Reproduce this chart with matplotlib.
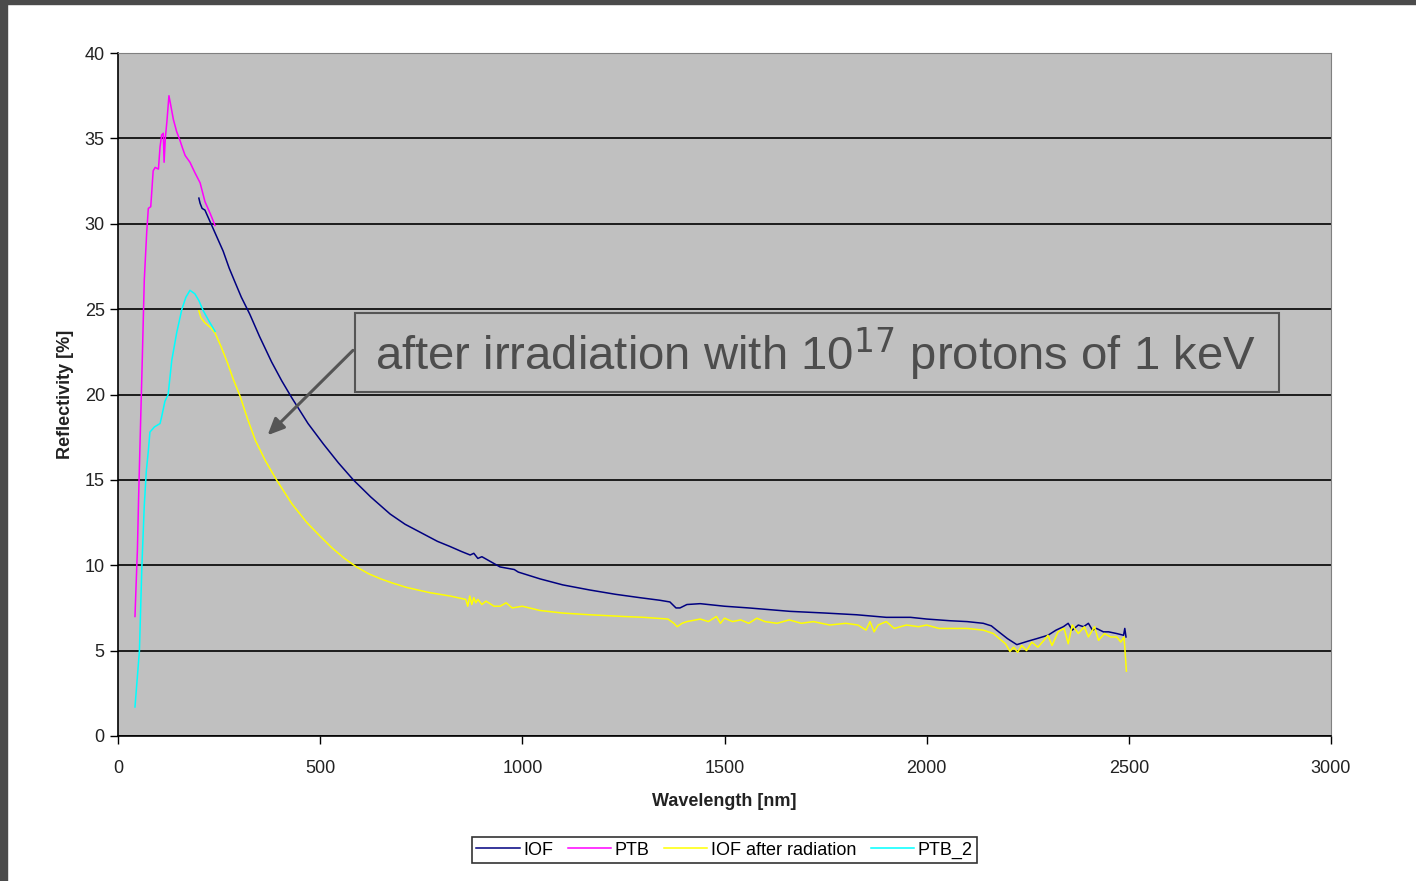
import matplotlib
matplotlib.use('Agg')
import matplotlib.pyplot as plt
import matplotlib.patches as mpatches

plt.rcParams['font.family'] = ['Liberation Sans', 'DejaVu Sans']

# PTB (magenta)
ptb_x = [42, 45, 48, 51, 54, 60, 65, 71, 75, 81, 87, 92, 100, 104, 108, 112, 114, 117, 121, 126, 130, 137,
         145, 153, 160, 166, 178, 190, 203, 215, 228, 240]
ptb_y = [7.0, 9.0, 10.9, 14.0, 16.7, 22.0, 26.7, 29.5, 30.9, 31.0, 33.1, 33.3, 33.2, 34.5, 35.2, 35.3, 33.6,
         35.0, 36.0, 37.5, 37.0, 36.1, 35.4, 34.9, 34.4, 34.0, 33.6, 33.0, 32.4, 31.3, 30.6, 29.9]

# PTB_2 (cyan)
ptb2_x = [42, 47, 53, 59, 65, 70, 75, 79, 90, 104, 108, 116, 124, 133, 145, 158, 168, 178, 190, 200, 211, 225, 240]
ptb2_y = [1.7, 3.2, 5.0, 9.9, 13.5, 15.5, 16.7, 17.8, 18.1, 18.3, 18.7, 19.6, 20.0, 22.0, 23.6, 25.0, 25.7,
          26.1, 25.9, 25.5, 24.9, 24.3, 23.7]

# IOF (navy)
iof_x = [200, 203, 208, 215, 230, 245, 260, 275, 289, 305, 326, 350, 380, 405, 430, 470, 508, 545, 582, 625,
         673, 710, 750, 790, 821, 850, 871, 880, 890, 900, 945, 980, 990, 1044, 1100, 1167, 1230, 1291, 1340,
         1365, 1380, 1390, 1407, 1440, 1500, 1560, 1662, 1750, 1827, 1900, 1960, 2000, 2058, 2100, 2140, 2160,
         2173, 2200, 2223, 2250, 2272, 2300, 2320, 2338, 2350, 2360, 2375, 2388, 2400, 2410, 2420, 2437, 2450,
         2470, 2487, 2490, 2493]
iof_y = [31.5, 31.2, 30.9, 30.8, 30.0, 29.2, 28.4, 27.4, 26.6, 25.7, 24.7, 23.4, 21.9, 20.8, 19.8, 18.3, 17.1,
         16.0, 15.0, 14.0, 13.0, 12.4, 11.9, 11.4, 11.1, 10.8, 10.6, 10.7, 10.4, 10.5, 9.9, 9.75, 9.6, 9.2,
         8.85, 8.55, 8.3, 8.1, 7.95, 7.85, 7.5, 7.5, 7.7, 7.75, 7.6, 7.5, 7.3, 7.2, 7.1, 6.95, 6.95, 6.85, 6.75,
         6.7, 6.6, 6.45, 6.2, 5.7, 5.35, 5.55, 5.7, 5.9, 6.2, 6.4, 6.6, 6.2, 6.5, 6.4, 6.6, 6.2, 6.3, 6.1, 6.1,
         6.0, 5.9, 6.3, 5.8]

# IOF after radiation (yellow)
rad_x = [200, 205, 215, 230, 240, 255, 270, 285, 302, 320, 340, 365, 392, 430, 467, 500, 530, 560, 590, 620,
         650, 680, 714, 770, 821, 860, 865, 870, 875, 880, 885, 890, 900, 910, 930, 945, 960, 975, 1000, 1044,
         1100, 1167, 1250, 1300, 1360, 1375, 1383, 1395, 1407, 1440, 1460, 1480, 1490, 1500, 1520, 1540, 1560,
         1580, 1600, 1630, 1660, 1690, 1720, 1760, 1800, 1830, 1850, 1860, 1870, 1880, 1900, 1920, 1950, 1980,
         2000, 2030, 2058, 2100, 2140, 2165, 2180, 2195, 2206, 2215, 2225, 2235, 2247, 2260, 2275, 2290, 2300,
         2310, 2325, 2340, 2350, 2360, 2375, 2390, 2400, 2415, 2425, 2440, 2455, 2470, 2480, 2488, 2490, 2494]
rad_y = [24.9, 24.5, 24.2, 23.9, 23.6, 22.8, 21.9, 20.9, 19.9, 18.6, 17.3, 16.1, 15.0, 13.6, 12.5, 11.7, 11.0,
         10.4, 9.9, 9.5, 9.2, 8.95, 8.7, 8.4, 8.2, 8.0, 7.6, 8.2, 7.7, 8.1, 7.8, 8.0, 7.7, 7.9, 7.6, 7.6, 7.8,
         7.5, 7.6, 7.35, 7.2, 7.1, 7.0, 6.95, 6.85, 6.6, 6.4, 6.6, 6.7, 6.85, 6.7, 7.0, 6.6, 6.9, 6.7, 6.8, 6.6,
         6.9, 6.7, 6.6, 6.8, 6.6, 6.7, 6.5, 6.6, 6.5, 6.2, 6.7, 6.1, 6.5, 6.7, 6.3, 6.5, 6.4, 6.5, 6.3, 6.3,
         6.3, 6.2, 6.0, 5.7, 5.4, 4.95, 5.2, 4.9, 5.3, 5.0, 5.5, 5.2, 5.6, 5.9, 5.3, 6.1, 6.3, 5.4, 6.5, 6.0,
         6.4, 5.8, 6.4, 5.6, 6.0, 5.8, 5.8, 5.5, 5.8, 5.2, 3.8]

fig = plt.figure(figsize=(14.16, 8.81), dpi=100)
# dark frame at top and left
fig.patches.append(mpatches.Rectangle((0, 1 - 4 / 881), 1, 4 / 881, transform=fig.transFigure,
                                      color='#4b4b4b', zorder=10))
fig.patches.append(mpatches.Rectangle((0, 0), 7 / 1416, 1, transform=fig.transFigure,
                                      color='#4b4b4b', zorder=10))

ax = fig.add_axes([118 / 1416, 1 - 736 / 881, (1331 - 118) / 1416, (736 - 53) / 881])
ax.set_facecolor('#c0c0c0')

ax.plot(iof_x, iof_y, color='#000080', lw=1.1, label='IOF')
ax.plot(ptb_x, ptb_y, color='#ff00ff', lw=1.1, label='PTB')
ax.plot(rad_x, rad_y, color='#ffff00', lw=1.1, label='IOF after radiation')
ax.plot(ptb2_x, ptb2_y, color='#00ffff', lw=1.1, label='PTB_2')

ax.set_xlim(0, 3000)
ax.set_ylim(0, 40)
ax.set_xticks(range(0, 3001, 500))
ax.set_yticks(range(0, 41, 5))
ax.yaxis.grid(True, color='black', lw=1.2)
ax.set_axisbelow(True)
ax.tick_params(direction='out', length=6, width=1, labelsize=13, colors='black', labelcolor='#222222')
ax.tick_params(axis='x', pad=11)
for s in ['top', 'right']:
    ax.spines[s].set_color('#808080')
for s in ['left', 'bottom']:
    ax.spines[s].set_linewidth(1.2)

ax.set_xlabel('Wavelength [nm]', fontsize=13, fontweight='bold', color='#222222', labelpad=12)
ax.set_ylabel('Reflectivity [%]', fontsize=13, fontweight='bold', color='#222222', labelpad=8)

# annotation box and arrow
ax.add_patch(mpatches.Rectangle((586, 20.15), 2872 - 586, 24.77 - 20.15, facecolor='#c0c0c0',
                                edgecolor='#555555', lw=1.5, zorder=3))
ax.annotate('', xy=(365, 17.5), xytext=(586, 22.7),
            arrowprops=dict(arrowstyle='-|>,head_length=1.0,head_width=0.45', color='#555555', lw=2.2))
ax.text(636, 22.35, 'after irradiation with 10$^{17}$ protons of 1 keV', fontsize=34, color='#4d4d4d',
        va='center', ha='left', zorder=4)

leg = ax.legend(loc='upper center', bbox_to_anchor=(0.5, -0.135), ncol=4, fontsize=13, frameon=True,
                fancybox=False, edgecolor='black', handlelength=2.4, handletextpad=0.2, columnspacing=0.8,
                borderpad=0.25)
leg.get_frame().set_linewidth(1.2)

fig.savefig('out.png', dpi=100, facecolor='white')
